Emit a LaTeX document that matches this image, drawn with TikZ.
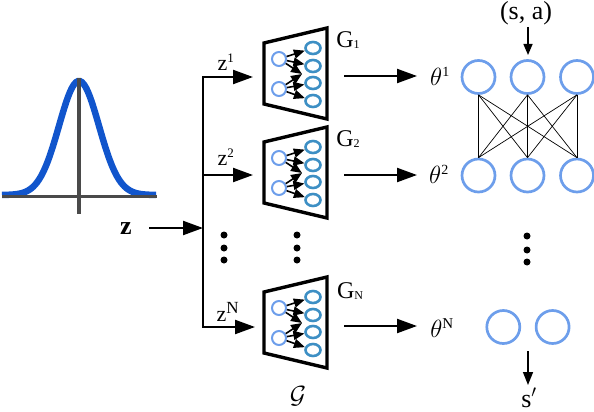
\documentclass[tikz,border=0pt]{standalone}
\usepackage{fontspec}
\setmainfont{Liberation Serif}
\usetikzlibrary{arrows.meta,shapes.geometric}
\definecolor{lblue}{HTML}{6D9EEB}
\definecolor{tblue}{HTML}{3D8FC4}
\definecolor{gblue}{HTML}{1155CC}
\definecolor{axisc}{HTML}{4A4A4A}
\newcommand{\fs}[1]{\fontsize{#1}{#1}\selectfont}
\begin{document}
\begin{tikzpicture}[x=1pt,y=-1pt,
  flow/.style={line width=2.2pt,-{Triangle[length=20pt,width=14pt]}},
  mini/.style={line width=1.6pt,-{Triangle[length=11pt,width=9pt]}},
  trunk/.style={line width=2.2pt},
  leftc/.style={circle,draw=lblue,line width=2pt,minimum size=14pt,inner sep=0pt},
  rightc/.style={ellipse,draw=tblue,line width=2.6pt,minimum width=15pt,minimum height=12pt,inner sep=0pt},
  netc/.style={circle,draw=lblue,line width=2.7pt,minimum size=33pt,inner sep=0pt},
  wire/.style={line width=0.7pt},
  lab/.style={inner sep=0pt,font=\fs{22}},
  glab/.style={inner sep=0pt,font=\fs{24}},
  dotn/.style={circle,fill=black,minimum size=7pt,inner sep=0pt}]
\useasboundingbox (0,0) rectangle (594,412);
% Gaussian
\draw[gblue,line width=6.5pt,smooth] plot[domain=-77:77,samples=80] (\x+79,{196-114*exp(-(\x*\x)/(2*20*20))-1});
\draw[axisc,line width=3pt] (2,196) -- (157,196);
\draw[axisc,line width=3.5pt] (79,78) -- (79,214);
% z input
\node[lab,font=\fs{26}] (z) at (126,229) {$\mathbf{z}$};
\coordinate (junc) at (203,228);
\draw[flow] (149,228) -- (junc);
% trunk
\coordinate (ttop) at (203,77);
\coordinate (tbot) at (203,327);
% generators
\foreach \nm/\dy in {a/0,b/99,c/249}{
  \begin{scope}[yshift=-\dy pt]
  \draw[line width=3.4pt,line join=miter] (264,43) -- (327,28) -- (327,119) -- (264,104) -- cycle;
  \node[leftc] (\nm l1) at (279,59) {};
  \node[leftc] (\nm l2) at (279,89) {};
  \node[rightc] (\nm r1) at (313,48) {};
  \node[rightc] (\nm r2) at (313,66) {};
  \node[rightc] (\nm r3) at (313,83) {};
  \node[rightc] (\nm r4) at (313,101) {};
  \coordinate (\nm c) at (302,74);
  \draw[mini] (\nm l1) -- (\nm r1);
  \draw[mini] (\nm l1) -- (\nm r2);
  \draw[mini] (\nm l2) -- (\nm r3);
  \draw[mini] (\nm l2) -- (\nm r4);
  \draw[mini] (\nm l1) -- (\nm c);
  \draw[mini] (\nm l2) -- (\nm c);
  \end{scope}
}
% branches
\draw[trunk,line cap=rect] (ttop) -- (tbot);
\draw[flow] (ttop) -- (253,77);
\draw[flow] (203,175) -- (253,175);
\draw[flow] (tbot) -- (255,327);
\node[lab] (lz1) at (226,62) {z$^{\mbox{\fs{13}1}}$};
\node[lab] (lz2) at (226,157) {z$^{\mbox{\fs{13}2}}$};
\node[lab] (lzN) at (228,312) {z$^{\mbox{\fs{17}N}}$};
% G labels
\node[glab] (g1) at (348,40) {G\raisebox{-1pt}{\fs{12}1}};
\node[glab] (g2) at (348,139) {G\raisebox{-1pt}{\fs{12}2}};
\node[glab] (gN) at (350,291) {G\raisebox{-1pt}{\fs{12}N}};
\node[lab,font=\fs{38}] (gcal) at (298,396) {$\mathcal{G}$};
% theta arrows
\coordinate (ta) at (344,76);
\coordinate (tb) at (344,175);
\coordinate (tc) at (344,326);
\node[lab,font=\fs{24}] (th1) at (440,76) {$\theta^{\mbox{\fs{14}1}}$};
\node[lab,font=\fs{24}] (th2) at (439,174) {$\theta^{\mbox{\fs{14}2}}$};
\node[lab,font=\fs{24}] (thN) at (442,328) {$\theta^{\mbox{\fs{15}N}}$};
\draw[flow] (ta) -- (417,76);
\draw[flow] (tb) -- (417,175);
\draw[flow] (tc) -- (417,326);
% network
\foreach \n/\x in {1/478.5,2/527.5,3/577}{
  \node[netc] (u\n) at (\x,77) {};
  \node[netc] (v\n) at (\x,175.5) {};
}
\foreach \na in {1,2,3}\foreach \nb in {1,2,3}{
  \draw[wire] (u\na.south) -- (v\nb.north);
}
\node[netc] (w1) at (503.3,327) {};
\node[netc] (w2) at (552.6,327) {};
% top and bottom
\node[lab,font=\fs{26}] (sa) at (526,13.5) {(s, a)};
\coordinate (sae) at (528,27);
\coordinate (sab) at (528,55);
\draw[line width=1.5pt,-{Triangle[length=11pt,width=9pt]}] (sae) -- (sab);
\coordinate (spb) at (528,351);
\coordinate (spe) at (528,385);
\node[lab,font=\fs{26},anchor=base] (sp) at (529,407) {s$'$};
\draw[line width=1.5pt,-{Triangle[length=13pt,width=10pt]}] (spb) -- (spe);
% dots
\foreach \nm/\x/\a/\b/\c in {p/224/235/248/260,q/297/235/248/260,r/527/236/250/262}{
  \node[dotn] (\nm1) at (\x,\a) {};
  \node[dotn] (\nm2) at (\x,\b) {};
  \node[dotn] (\nm3) at (\x,\c) {};
}
\end{tikzpicture}
\end{document}
